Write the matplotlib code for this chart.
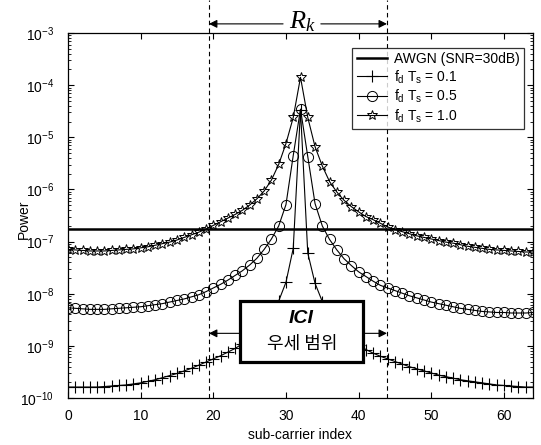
import numpy as np
import matplotlib
matplotlib.use('Agg')
import matplotlib.pyplot as plt
from matplotlib.patches import Rectangle
from matplotlib.ticker import NullFormatter, LogLocator
import matplotlib.transforms as mtrans

plt.rcParams['font.family'] = ['Liberation Sans', 'DejaVu Sans']
plt.rcParams['mathtext.fontset'] = 'custom'
plt.rcParams['mathtext.rm'] = 'Liberation Sans'
plt.rcParams['mathtext.it'] = 'Liberation Serif:italic'

# ---------------- data ----------------
subcarrier = np.arange(65)
awgn_level = 1.74e-7   # AWGN (SNR=30dB), flat

# log10(Power), sub-carrier 0..64
fd01_log = [-9.79, -9.79, -9.79, -9.79, -9.79, -9.78, -9.77, -9.76, -9.75, -9.73,
            -9.71, -9.68, -9.65, -9.61, -9.57, -9.53, -9.48, -9.43, -9.37, -9.31,
            -9.25, -9.19, -9.12, -9.05, -8.96, -8.85, -8.72, -8.57, -8.38, -8.14,
            -7.78, -7.13, -4.48, -7.22, -7.80, -8.15, -8.40, -8.59, -8.74, -8.87,
            -8.98, -9.07, -9.14, -9.20, -9.25, -9.30, -9.35, -9.40, -9.44, -9.48,
            -9.52, -9.56, -9.59, -9.62, -9.65, -9.67, -9.69, -9.71, -9.73, -9.75,
            -9.76, -9.77, -9.78, -9.79, -9.79]
fd05_log = [-8.27, -8.28, -8.29, -8.30, -8.30, -8.30, -8.29, -8.28, -8.27, -8.26,
            -8.25, -8.23, -8.21, -8.19, -8.16, -8.13, -8.10, -8.06, -8.02, -7.96,
            -7.89, -7.82, -7.74, -7.65, -7.56, -7.45, -7.32, -7.15, -6.95, -6.70,
            -6.29, -5.35, -4.46, -5.37, -6.27, -6.70, -6.96, -7.16, -7.33, -7.46,
            -7.58, -7.67, -7.76, -7.84, -7.89, -7.94, -7.99, -8.04, -8.08, -8.12,
            -8.16, -8.19, -8.22, -8.25, -8.28, -8.30, -8.32, -8.34, -8.35, -8.36,
            -8.36, -8.37, -8.37, -8.37, -8.36]
fd10_log = [-7.15, -7.16, -7.17, -7.18, -7.18, -7.18, -7.17, -7.16, -7.15, -7.14,
            -7.12, -7.10, -7.07, -7.04, -7.01, -6.97, -6.92, -6.87, -6.82, -6.76,
            -6.69, -6.62, -6.55, -6.48, -6.40, -6.30, -6.18, -6.03, -5.82, -5.52,
            -5.12, -4.62, -3.85, -4.62, -5.18, -5.55, -5.85, -6.05, -6.21, -6.33,
            -6.43, -6.52, -6.58, -6.65, -6.72, -6.77, -6.81, -6.85, -6.89, -6.92,
            -6.95, -6.98, -7.01, -7.03, -7.06, -7.09, -7.11, -7.13, -7.15, -7.16,
            -7.17, -7.18, -7.19, -7.20, -7.20]

x_ticks = [0, 10, 20, 30, 40, 50, 60]
y_ticks = [1e-10, 1e-9, 1e-8, 1e-7, 1e-6, 1e-5, 1e-4, 1e-3]
rk_left, rk_right = 19.4, 43.9           # dashed boundaries of R_k
ici_box_x = (23.7, 40.6)
ici_box_logy = (-9.30, -8.14)
ici_arrow_logy = -8.76

# ---------------- figure ----------------
fig = plt.figure(figsize=(5.41, 4.45), dpi=100)
ax = fig.add_axes([68/541, 1-398/445, 465/541, 365/445])

fd01 = 10.0 ** np.array(fd01_log)
fd05 = 10.0 ** np.array(fd05_log)
fd10 = 10.0 ** np.array(fd10_log)

ax.semilogy(subcarrier, np.full(subcarrier.shape, awgn_level), color='black', lw=1.8,
            label='AWGN (SNR=30dB)', zorder=3)
ax.semilogy(subcarrier, fd01, color='black', lw=0.8, marker='+', ms=8, mew=0.8,
            label=r'$\mathregular{f_d\ T_s}$ = 0.1', zorder=3)
ax.semilogy(subcarrier, fd05, color='black', lw=0.8, marker='o', ms=7.3, mew=0.7,
            mfc='none', label=r'$\mathregular{f_d\ T_s}$ = 0.5', zorder=3)
ax.semilogy(subcarrier, fd10, color='black', lw=0.8, marker='*', ms=7, mew=0.7,
            mfc='none', label=r'$\mathregular{f_d\ T_s}$ = 1.0', zorder=3)

ax.set_xlim(0, 64)
ax.set_ylim(1e-10, 1e-3)
ax.set_xticks(x_ticks)
ax.set_yticks(y_ticks)
ax.yaxis.set_minor_locator(LogLocator(base=10, subs=np.arange(2, 10), numticks=20))
ax.yaxis.set_minor_formatter(NullFormatter())
ax.tick_params(which='both', direction='in', top=True, right=True, labelsize=10)
ax.tick_params(which='major', length=4, width=0.8)
ax.tick_params(which='minor', length=2, width=0.6)
ax.tick_params(axis='x', which='minor', bottom=False, top=False)
ax.tick_params(axis='x', which='major', pad=8)
ax.tick_params(axis='y', which='major', pad=10)
for s in ax.spines.values():
    s.set_linewidth(0.9)

ax.set_xlabel('sub-carrier index', fontsize=10)
ax.set_ylabel('Power', fontsize=10)
ax.xaxis.set_label_coords(0.5, -0.082)
ax.yaxis.set_label_coords(-0.08, 0.49)

leg = ax.legend(loc='upper right', bbox_to_anchor=((524-68)/465, (398-48)/365),
                borderaxespad=0, fontsize=10, frameon=True, fancybox=False,
                edgecolor='black', handlelength=2.2, handletextpad=0.5,
                labelspacing=0.15, borderpad=0.3)
leg.get_frame().set_linewidth(0.9)
leg.set_zorder(10)

# R_k boundaries
blend = mtrans.blended_transform_factory(ax.transData, ax.transAxes)
for xv in (rk_left, rk_right):
    ax.plot([xv, xv], [0, 1.09], transform=blend, clip_on=False, color='black',
            lw=0.8, ls=(0, (4, 3)), zorder=4)
arrow_kw = dict(arrowstyle='-|>', color='black', lw=0.8, mutation_scale=12,
                shrinkA=0, shrinkB=0)
ax.annotate('', xy=(rk_left, 1.025), xytext=(29.6, 1.025), xycoords=blend,
            textcoords=blend, arrowprops=arrow_kw, annotation_clip=False)
ax.annotate('', xy=(rk_right, 1.025), xytext=(34.8, 1.025), xycoords=blend,
            textcoords=blend, arrowprops=arrow_kw, annotation_clip=False)
ax.text(32.2, 1.03, r'$R_k$', transform=blend, ha='center', va='center',
        fontsize=19, clip_on=False)

# ICI box
y0, y1 = 10 ** ici_box_logy[0], 10 ** ici_box_logy[1]
rect = Rectangle((ici_box_x[0], y0), ici_box_x[1]-ici_box_x[0], y1-y0,
                 facecolor='white', edgecolor='black', lw=2.3, zorder=6)
ax.add_patch(rect)
ax.text(32.1, 10 ** -8.47, 'ICI', ha='center', va='center', fontsize=14,
        fontweight='bold', fontstyle='italic', zorder=7)
ax.text(32.3, 10 ** -8.96, '우세 범위', ha='center', va='center', fontsize=13,
        family=['Noto Sans CJK KR', 'DejaVu Sans'], zorder=7)
ya = 10 ** ici_arrow_logy
ax.annotate('', xy=(rk_left, ya), xytext=(ici_box_x[0], ya), arrowprops=arrow_kw,
            zorder=7)
ax.annotate('', xy=(rk_right, ya), xytext=(ici_box_x[1], ya), arrowprops=arrow_kw,
            zorder=7)

fig.savefig('out.png', dpi=100)
